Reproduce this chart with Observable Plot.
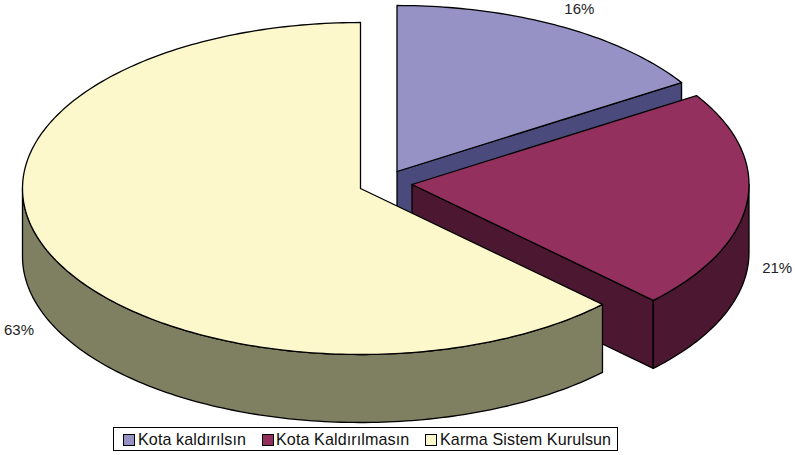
<!DOCTYPE html>
<html><head><meta charset="utf-8">
<script src="https://cdn.jsdelivr.net/npm/d3@7"></script>
<script src="https://cdn.jsdelivr.net/npm/@observablehq/plot@0.6"></script>
<style>
html,body{margin:0;padding:0;background:#fff}
#chart svg{display:block}
#legend{position:absolute;left:113px;top:427px;width:503px;height:22px;border:1px solid #000;background:#fff;font:16.1px "Liberation Sans",Arial,sans-serif;letter-spacing:.1px;color:#111;white-space:nowrap}
#legend span.s{position:absolute;top:6px;width:10px;height:10px;border:1px solid #000}
#legend span.t{position:absolute;top:2px;line-height:18px}
</style></head><body>
<div id="chart"></div>
<div id="legend"></div>
<script>
const categories = ["Kota kaldırılsın", "Kota Kaldırılmasın", "Karma Sistem Kurulsun"];
const shares = [16.0, 21.3, 62.7];
const labels = ["16%", "21%", "63%"];
const topColors = ["#9692C6", "#93305E", "#FCF8CB"];
const sideColors = ["#4B4A7C", "#4C1731", "#7F7F62"];

// layout of the tilted pie
const W = 795, H = 427, ry = 166, depth = 68;
const radiiX = [337, 337, 338];
const centers = [[396.5, 171], [411.5, 184], [360, 188]];
const labelNudge = [[20, -17], [30, 67], [-30, 77]];

const total = d3.sum(shares);
let acc = 0;
const slices = shares.map((v, i) => {
  const a0 = acc / total * 360; acc += v; const a1 = acc / total * 360;
  return {i, a0, a1, c: centers[i], rx: radiiX[i]};
});
const pt = (s, t, dz = 0) => {
  const r = t * Math.PI / 180;
  return {x: s.c[0] + s.rx * Math.sin(r), y: s.c[1] - ry * Math.cos(r) + dz};
};
const arc = (s, t0, t1, dz = 0) => {
  const n = Math.max(2, Math.ceil(Math.abs(t1 - t0)));
  return d3.range(n + 1).map(k => pt(s, t0 + (t1 - t0) * k / n, dz));
};
const topFace = s => {
  const o = {x: s.c[0], y: s.c[1]};
  return [o, ...arc(s, s.a0, s.a1), o];
};
const radialWall = s => {
  const o = {x: s.c[0], y: s.c[1]}, e = pt(s, s.a1);
  return [o, e, {x: e.x, y: e.y + depth}, {x: o.x, y: o.y + depth}, o];
};
const rimWall = (s, t0, t1) => {
  const up = arc(s, t0, t1), down = arc(s, t1, t0, depth);
  return [...up, ...down, up[0]];
};
const shape = (pts, fill) => Plot.line(pts, {x: "x", y: "y", fill, stroke: "#000", strokeWidth: 1.3, curve: "linear", strokeLinejoin: "round"});

const [s0, s1, s2] = slices;
const marks = [
  shape(radialWall(s0), sideColors[0]),
  shape(topFace(s0), topColors[0]),
  shape(radialWall(s1), sideColors[1]),
  shape(rimWall(s1, 90, s1.a1), sideColors[1]),
  shape(topFace(s1), topColors[1]),
  shape(rimWall(s2, s2.a0, 270), sideColors[2]),
  shape(topFace(s2), topColors[2]),
];
const labelData = slices.map(s => {
  const m = pt(s, (s.a0 + s.a1) / 2);
  return {x: m.x + labelNudge[s.i][0], y: m.y + labelNudge[s.i][1], t: labels[s.i]};
});
marks.push(Plot.text(labelData, {x: "x", y: "y", text: "t", fill: "#222", fontSize: 15, fontFamily: "Liberation Sans"}));

const plot = Plot.plot({
  width: W, height: H, margin: 0,
  x: {domain: [0, W], range: [0, W], axis: null},
  y: {domain: [0, H], range: [0, H], axis: null},
  marks
});
document.getElementById("chart").append(plot);

const swatchX = [9, 148, 311], textX = [24, 162, 326];
const lg = document.getElementById("legend");
categories.forEach((c, i) => {
  const s = document.createElement("span"); s.className = "s";
  s.style.left = swatchX[i] + "px"; s.style.background = topColors[i]; lg.append(s);
  const t = document.createElement("span"); t.className = "t";
  t.style.left = textX[i] + "px"; t.textContent = c; lg.append(t);
});
</script></body></html>
